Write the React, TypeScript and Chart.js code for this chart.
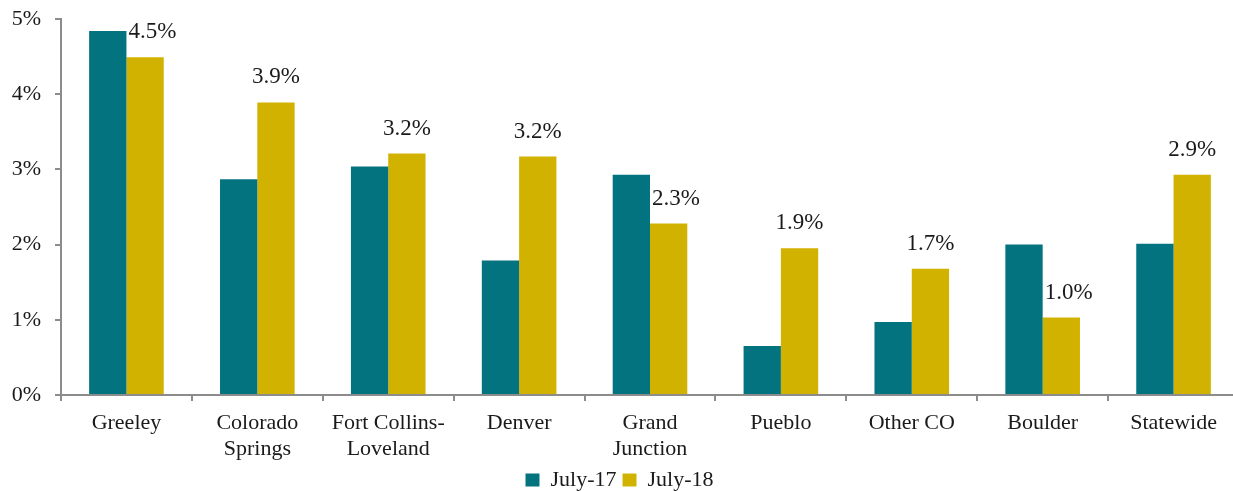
import React, { useEffect, useRef } from "react";
import { Chart, registerables } from "chart.js";

Chart.register(...registerables);

const categories: (string | string[])[] = [
  "Greeley",
  ["Colorado", "Springs"],
  ["Fort Collins-", "Loveland"],
  "Denver",
  ["Grand", "Junction"],
  "Pueblo",
  "Other CO",
  "Boulder",
  "Statewide",
];
const july17: number[] = [4.84, 2.87, 3.04, 1.79, 2.93, 0.65, 0.97, 2.0, 2.01];
const july18: number[] = [4.49, 3.89, 3.21, 3.17, 2.28, 1.95, 1.68, 1.03, 2.93];
const yTicks: number[] = [0, 1, 2, 3, 4, 5];

const FONT = "'Liberation Serif', 'Times New Roman', serif";
const TEAL = "#02737f";
const GOLD = "#d2b200";
const AXIS = "#8c8c8c";
const TEXT = "#1a1a1a";

const CANVAS_W = 1239;
const CANVAS_H = 501;

const labelPlugin = {
  id: "valueLabels",
  afterDatasetsDraw(chart: any) {
    const ctx = chart.ctx;
    const m0 = chart.getDatasetMeta(0);
    const m1 = chart.getDatasetMeta(1);
    ctx.save();
    ctx.font = `23px ${FONT}`;
    ctx.fillStyle = TEXT;
    ctx.textBaseline = "alphabetic";
    m1.data.forEach((bar: any, i: number) => {
      const text = july18[i].toFixed(1) + "%";
      const y = bar.y - 19;
      const other = m0.data[i];
      if (other && other.y < y + 2) {
        ctx.textAlign = "left";
        ctx.fillText(text, other.x + other.width / 2 + 2, y);
      } else {
        ctx.textAlign = "center";
        ctx.fillText(text, bar.x, y);
      }
    });
    ctx.restore();
  },
};

export default function App() {
  const ref = useRef<HTMLCanvasElement | null>(null);
  useEffect(() => {
    document.body.style.margin = "0";
    const chart = new Chart(ref.current as HTMLCanvasElement, {
      type: "bar",
      data: {
        labels: categories,
        datasets: [
          { label: "July-17", data: july17, backgroundColor: TEAL, categoryPercentage: 0.57, barPercentage: 1 },
          { label: "July-18", data: july18, backgroundColor: GOLD, categoryPercentage: 0.57, barPercentage: 1 },
        ],
      },
      options: {
        animation: false,
        responsive: false,
        maintainAspectRatio: false,
        layout: { padding: { top: 19, left: 0, right: 0, bottom: 0 } },
        plugins: {
          tooltip: { enabled: false },
          legend: {
            position: "bottom",
            labels: {
              font: { family: FONT, size: 22 },
              color: TEXT,
              boxWidth: 14,
              boxHeight: 13,
              padding: 6,
            },
          },
        },
        scales: {
          x: {
            grid: { display: true, drawOnChartArea: false, tickLength: 6, color: AXIS, lineWidth: 2, offset: true },
            border: { display: true, color: AXIS, width: 2 },
            ticks: { font: { family: FONT, size: 22 }, color: TEXT, maxRotation: 0, autoSkip: false, padding: 9 },
            afterFit(scale: any) {
              scale.height = 68;
              scale.paddingLeft = 0;
              scale.paddingRight = 0;
            },
          },
          y: {
            min: 0,
            max: 5,
            afterBuildTicks(scale: any) {
              scale.ticks = yTicks.map((v) => ({ value: v }));
            },
            grid: { display: true, drawOnChartArea: false, tickLength: 6, color: AXIS, lineWidth: 2 },
            border: { display: true, color: AXIS, width: 2 },
            ticks: {
              font: { family: FONT, size: 22 },
              color: TEXT,
              padding: 14,
              callback: (v: any) => v + "%",
            },
            afterFit(scale: any) {
              scale.width = 61;
              scale.paddingTop = 0;
              scale.paddingBottom = 0;
            },
          },
        },
      },
      plugins: [labelPlugin],
    });
    return () => chart.destroy();
  }, []);
  return (
    <div style={{ width: 1233, height: 491, overflow: "hidden" }}>
      <canvas ref={ref} width={CANVAS_W} height={CANVAS_H} style={{ display: "block" }} />
    </div>
  );
}
